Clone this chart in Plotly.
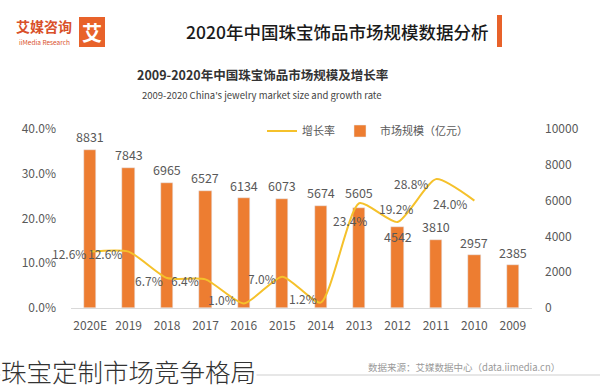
import plotly.graph_objects as go

years = ["2009", "2010", "2011", "2012", "2013", "2014", "2015", "2016", "2017", "2018", "2019", "2020E"]
market_size = [2385, 2957, 3810, 4542, 5605, 5674, 6073, 6134, 6527, 6965, 7843, 8831]
growth_years = ["2010", "2011", "2012", "2013", "2014", "2015", "2016", "2017", "2018", "2019", "2020E"]
growth_rate = [0.240, 0.288, 0.192, 0.234, 0.012, 0.070, 0.010, 0.064, 0.067, 0.126, 0.126]
growth_labels = ["24.0%", "28.8%", "19.2%", "23.4%", "1.2%", "7.0%", "1.0%", "6.4%", "6.7%", "12.6%", "12.6%"]

# label offsets in pixels (style only): (xshift, yshift)
bar_label_shift = [13, 13, 13, -10, 15, 14, 14, 13, 14, 14, 13, 13]
growth_label_shift = [(-24, -3), (-25, -4), (-2, 14), (-9, -17), (-18, 4), (-20, -2),
                      (-22, 4), (-20, -1), (-18, -2), (-24, -2), (-21, -2)]

W, H = 600, 390
FONT = "Noto Sans CJK SC"
ORANGE = "#ED7D31"
GOLD = "#F5C12B"
GRAY = "#595959"

def py(pix):
    return (H - pix) / H

def px(pix):
    return pix / W

fig = go.Figure()
fig.add_trace(go.Bar(
    x=years, y=market_size, name="市场规模（亿元）",
    marker_color=ORANGE, width=0.32,
    yaxis="y", legendrank=2,
))
fig.add_trace(go.Scatter(
    x=growth_years, y=growth_rate, name="增长率",
    mode="lines", line=dict(color=GOLD, width=2, shape="spline", smoothing=0.6),
    yaxis="y2", legendrank=1,
))

dom_y = [py(308), py(129)]
fig.update_layout(
    width=W, height=H,
    margin=dict(l=0, r=0, t=0, b=0, pad=0, autoexpand=False),
    paper_bgcolor="white", plot_bgcolor="white",
    font=dict(family=FONT, color=GRAY, size=11),
    bargap=0.0,
    xaxis=dict(type="category", domain=[px(71), px(532)], categoryorder="array", categoryarray=years,
               range=[len(years) - 0.5, -0.5], showgrid=False, showline=True, linecolor="#D9D9D9",
               linewidth=1, ticks="", tickfont=dict(size=12, color=GRAY), tickangle=0,
               ticklabelstandoff=7, automargin=False),
    yaxis=dict(domain=dom_y, range=[0, 10000], dtick=2000, side="right", tickformat="d",
               showgrid=False, zeroline=False, showline=False, automargin=False,
               tickfont=dict(size=12, color=GRAY), ticklabelstandoff=12),
    yaxis2=dict(overlaying="y", side="left", range=[0, 0.40], dtick=0.1, tickformat=".1%",
                showgrid=False, zeroline=False, showline=False, automargin=False,
                tickfont=dict(size=12, color=GRAY), ticklabelstandoff=14),
    legend=dict(orientation="h", x=px(262), xanchor="left", y=py(131), yanchor="middle",
                font=dict(size=11, color=GRAY), traceorder="normal",
                itemwidth=30, bgcolor="rgba(0,0,0,0)"),
    showlegend=True,
)

def ann(text, x, y, xanchor, size, color, weight=None, **kw):
    f = dict(size=size, color=color, family=FONT)
    if weight:
        f["weight"] = weight
    return dict(text=text, x=px(x), y=py(y), xref="paper", yref="paper", xanchor=xanchor,
                yanchor="middle", font=f, showarrow=False, **kw)

annotations = [
    ann("2020年中国珠宝饰品市场规模数据分析", 490, 31, "right", 17.5, "#1a1a1a", weight=500),
    ann("<b>2009-2020年中国珠宝饰品市场规模及增长率</b>", 262, 74, "center", 12.5, "#333333"),
    ann("2009-2020 China's jewelry market size and growth rate", 262, 95, "center", 9.5, "#444444"),
    ann("<b>艾</b>", 92, 32, "center", 20, "white"),
    ann("<b>艾媒咨询</b>", 44, 26, "center", 14, "#D9502A"),
    ann("iiMedia Research", 44, 42, "center", 6.5, "#D9502A"),
    ann("数据来源：艾媒数据中心（data.iimedia.cn）", 562, 367, "right", 9.5, "#9a9a9a"),
    ann("珠宝定制市场竞争格局", 0, 370, "left", 25.5, "#333333", weight=300, bgcolor="white", borderpad=0),
]

for yr, v, ys in zip(years, market_size, bar_label_shift):
    annotations.append(dict(text=str(v), x=years.index(yr), y=v, xref="x", yref="y", xanchor="center",
                            yanchor="middle", yshift=ys, showarrow=False,
                            font=dict(size=12.5, color=GRAY, family=FONT)))
for yr, r, lab, (xs, ys) in zip(growth_years, growth_rate, growth_labels, growth_label_shift):
    annotations.append(dict(text=lab, x=years.index(yr), y=r, xref="x", yref="y2", xanchor="center",
                            yanchor="middle", xshift=xs, yshift=ys, showarrow=False,
                            font=dict(size=12, color=GRAY, family=FONT)))
fig.update_layout(annotations=annotations)

shapes = [
    dict(type="rect", xref="paper", yref="paper", x0=px(497), x1=px(502), y0=py(47), y1=py(15),
         fillcolor="#E8622A", line_width=0),
    dict(type="rect", xref="paper", yref="paper", x0=px(79), x1=px(105), y0=py(47), y1=py(17),
         fillcolor="#E8622A", line_width=0, layer="below"),
    dict(type="line", xref="paper", yref="paper", x0=0, x1=1, y0=py(375), y1=py(375),
         line=dict(color="#CFCFCF", width=1), layer="below"),
]
fig.update_layout(shapes=shapes)

fig.write_html("out.html", config={"displayModeBar": False},
               post_script="document.body.style.margin='0px';document.body.style.padding='0px';")
